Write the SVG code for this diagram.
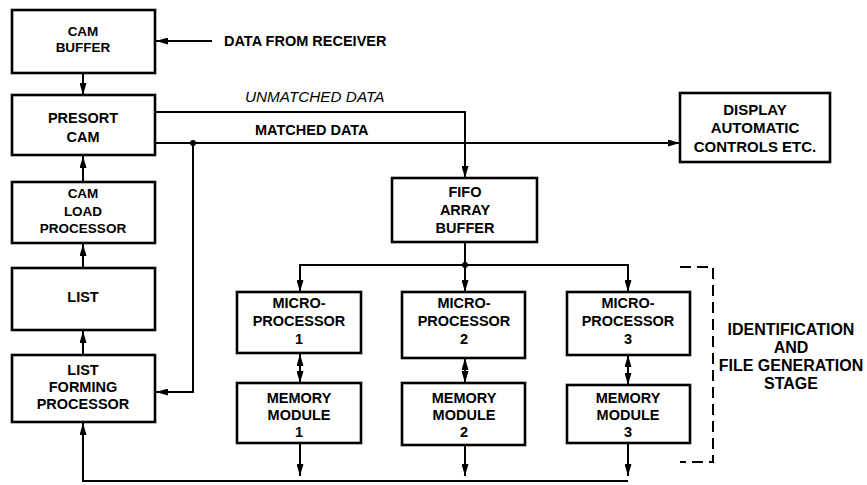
<svg xmlns="http://www.w3.org/2000/svg" width="867" height="485" viewBox="0 0 867 485">
  <style>
    .box { fill: #fff; stroke: #000; stroke-width: 2.6; }
    .t { font-family: "Liberation Sans", Arial, sans-serif; font-weight: bold; font-size: 14.5px; fill: #000; text-anchor: middle; }
    .sm { font-size: 13.5px; }
    .lg { font-size: 15px; }
    .xl { font-size: 16px; }
    .lbl { font-family: "Liberation Sans", Arial, sans-serif; font-weight: bold; font-size: 14.5px; fill: #000; }
    .it { font-style: italic; font-weight: normal; font-size: 15.3px; }
    .wire { fill: none; stroke: #000; stroke-width: 2; }
    .a { marker-end: url(#ah); }
    .aa { marker-start: url(#ah); marker-end: url(#ah); }
    .dash { fill: none; stroke: #000; stroke-width: 2; stroke-dasharray: 11 6; }
  </style>
  <defs>
    <marker id="ah" markerUnits="userSpaceOnUse" markerWidth="13" markerHeight="7" refX="12" refY="3.5" orient="auto-start-reverse">
      <path d="M0,0 L12,3.5 L0,7 z" fill="#000"/>
    </marker>
  </defs>
  <rect width="867" height="485" fill="#fff"/>

  <!-- connectors -->
  <g id="connectors">
    <line class="wire a" x1="212" y1="41" x2="156" y2="41"/>
    <line class="wire a" x1="83" y1="73" x2="83" y2="95"/>
    <line class="wire a" x1="83" y1="182" x2="83" y2="156"/>
    <line class="wire a" x1="83" y1="268" x2="83" y2="244"/>
    <line class="wire a" x1="83" y1="355" x2="83" y2="331"/>
    <!-- unmatched data to FIFO -->
    <polyline class="wire a" points="155,112 465,112 465,178"/>
    <!-- matched data to display -->
    <line class="wire a" x1="155" y1="143" x2="680" y2="143"/>
    <circle cx="193" cy="143" r="3"/>
    <polyline class="wire a" points="193,143 193,392 156,392"/>
    <!-- FIFO distribution bus -->
    <line class="wire" x1="465" y1="242" x2="465" y2="265"/>
    <circle cx="465" cy="265" r="3"/>
    <polyline class="wire a" points="465,265 300,265 300,292"/>
    <line class="wire a" x1="465" y1="265" x2="465" y2="292"/>
    <polyline class="wire a" points="465,265 628,265 628,292"/>
    <!-- processor to memory -->
    <line class="wire aa" x1="300" y1="354" x2="300" y2="383"/>
    <line class="wire aa" x1="465" y1="358" x2="465" y2="383"/>
    <line class="wire aa" x1="628" y1="355" x2="628" y2="385"/>
    <!-- memory return bus -->
    <line class="wire a" x1="300" y1="443" x2="300" y2="476"/>
    <line class="wire a" x1="465" y1="445" x2="465" y2="476"/>
    <line class="wire a" x1="628" y1="443" x2="628" y2="476"/>
    <polyline class="wire a" points="628,481 83,481 83,423"/>
  </g>

  <text class="lbl" x="224" y="46">DATA FROM RECEIVER</text>
  <text class="lbl it" x="245" y="102">UNMATCHED DATA</text>
  <text class="lbl" x="255" y="135">MATCHED DATA</text>

  <g id="cam-buffer">
    <rect class="box" x="12" y="10" width="143" height="63"/>
    <text class="t sm" x="83" y="36">CAM</text>
    <text class="t sm" x="83" y="52">BUFFER</text>
  </g>
  <g id="presort-cam">
    <rect class="box" x="12" y="95" width="143" height="60"/>
    <text class="t" x="83" y="123">PRESORT</text>
    <text class="t" x="83" y="142">CAM</text>
  </g>
  <g id="cam-load-processor">
    <rect class="box" x="12" y="182" width="143" height="61"/>
    <text class="t sm" x="83" y="198">CAM</text>
    <text class="t sm" x="83" y="216">LOAD</text>
    <text class="t sm" x="83" y="233">PROCESSOR</text>
  </g>
  <g id="list">
    <rect class="box" x="12" y="268" width="143" height="62"/>
    <text class="t" x="83" y="302">LIST</text>
  </g>
  <g id="list-forming-processor">
    <rect class="box" x="12" y="355" width="143" height="67"/>
    <text class="t" x="83" y="375">LIST</text>
    <text class="t" x="83" y="392">FORMING</text>
    <text class="t" x="83" y="409">PROCESSOR</text>
  </g>
  <g id="display">
    <rect class="box" x="680" y="93" width="150" height="69"/>
    <text class="t lg" x="755" y="115">DISPLAY</text>
    <text class="t lg" x="755" y="133">AUTOMATIC</text>
    <text class="t lg" x="755" y="152">CONTROLS ETC.</text>
  </g>
  <g id="fifo">
    <rect class="box" x="392" y="178" width="145" height="64"/>
    <text class="t" x="465" y="197">FIFO</text>
    <text class="t" x="465" y="215">ARRAY</text>
    <text class="t" x="465" y="233">BUFFER</text>
  </g>
  <g id="micro-1">
    <rect class="box" x="237" y="292" width="124" height="61"/>
    <text class="t" x="299" y="308">MICRO-</text>
    <text class="t" x="299" y="326">PROCESSOR</text>
    <text class="t" x="299" y="344">1</text>
  </g>
  <g id="memory-1">
    <rect class="box" x="237" y="383" width="124" height="60"/>
    <text class="t" x="299" y="403">MEMORY</text>
    <text class="t" x="299" y="420">MODULE</text>
    <text class="t" x="299" y="437">1</text>
  </g>
  <g id="micro-2">
    <rect class="box" x="402" y="292" width="123" height="66"/>
    <text class="t" x="464" y="308">MICRO-</text>
    <text class="t" x="464" y="326">PROCESSOR</text>
    <text class="t" x="464" y="344">2</text>
  </g>
  <g id="memory-2">
    <rect class="box" x="402" y="383" width="123" height="62"/>
    <text class="t" x="464" y="403">MEMORY</text>
    <text class="t" x="464" y="420">MODULE</text>
    <text class="t" x="464" y="437">2</text>
  </g>
  <g id="micro-3">
    <rect class="box" x="567" y="292" width="123" height="63"/>
    <text class="t" x="628" y="308">MICRO-</text>
    <text class="t" x="628" y="326">PROCESSOR</text>
    <text class="t" x="628" y="344">3</text>
  </g>
  <g id="memory-3">
    <rect class="box" x="567" y="385" width="123" height="58"/>
    <text class="t" x="628" y="403">MEMORY</text>
    <text class="t" x="628" y="420">MODULE</text>
    <text class="t" x="628" y="437">3</text>
  </g>

  <g id="stage-bracket">
    <polyline class="dash" points="680,267 713,267 713,462 680,462"/>
    <text class="t xl" x="791" y="335">IDENTIFICATION</text>
    <text class="t xl" x="791" y="353">AND</text>
    <text class="t xl" x="791" y="371">FILE GENERATION</text>
    <text class="t xl" x="791" y="389">STAGE</text>
  </g>
</svg>
